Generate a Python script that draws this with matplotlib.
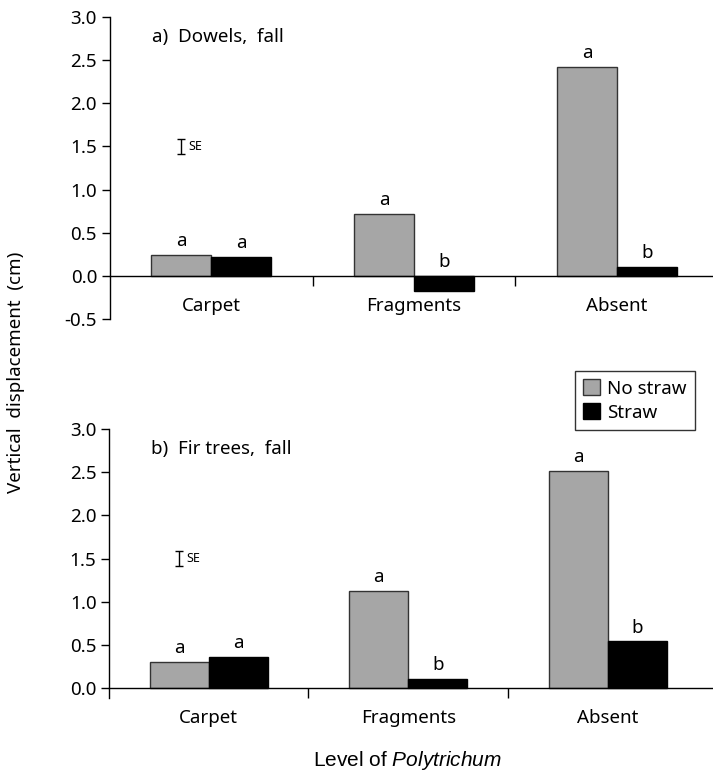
import numpy as np
import matplotlib
matplotlib.use("Agg")
import matplotlib.pyplot as plt
from matplotlib.patches import Patch

plt.rcParams['font.family'] = ['Noto Sans', 'DejaVu Sans']
plt.rcParams['mathtext.fontset'] = 'custom'
plt.rcParams['mathtext.it'] = 'Liberation Sans:italic'
plt.rcParams['mathtext.rm'] = 'Liberation Sans'

# DATA
levels = ['Carpet', 'Fragments', 'Absent']
series = ['No straw', 'Straw']
dowels_nostraw = [0.24, 0.72, 2.42]
dowels_straw = [0.22, -0.18, 0.10]
dowels_letters_nostraw = ['a', 'a', 'a']
dowels_letters_straw = ['a', 'b', 'b']
fir_nostraw = [0.30, 1.12, 2.51]
fir_straw = [0.36, 0.11, 0.54]
fir_letters_nostraw = ['a', 'a', 'a']
fir_letters_straw = ['a', 'b', 'b']
se_dowels = 0.09
se_fir = 0.09

gray = '#a6a6a6'
width = 0.295
x = np.arange(len(levels))
fs = 13.5

fig = plt.figure(figsize=(7.13, 7.72), dpi=100)
ax1 = fig.add_axes([0.1536, 0.5868, 0.8464, 0.3912])
ax2 = fig.add_axes([0.1529, 0.0965, 0.8471, 0.3478])


def panel(ax, nostraw, straw, let_ns, let_s, se, title, ylo, xhi):
    ax.bar(x - width / 2, nostraw, width, color=gray, edgecolor='#333333', linewidth=1.0, zorder=2)
    ax.bar(x + width / 2, straw, width, color='black', edgecolor='black', linewidth=1.0, zorder=2)
    for i in range(len(levels)):
        ax.annotate(let_ns[i], (x[i] - width / 2, max(nostraw[i], 0)), xytext=(0, 3.5),
                    textcoords='offset points', ha='center', va='bottom', fontsize=fs)
        ax.annotate(let_s[i], (x[i] + width / 2, max(straw[i], 0)), xytext=(0, 3.5),
                    textcoords='offset points', ha='center', va='bottom', fontsize=fs)
    # SE bar
    ax.errorbar([-0.15], [1.5], yerr=[se], fmt='none', ecolor='black', elinewidth=1.0, capsize=3, capthick=1.0)
    ax.text(-0.11, 1.5, 'SE', fontsize=9, va='center', ha='left')
    ax.text(-0.29, 2.77, title, fontsize=fs, va='center', ha='left')

    ax.set_xlim(-0.5, xhi)
    ax.set_ylim(ylo, 3.0)
    ax.set_yticks(np.arange(0 if ylo > -0.5 else -0.5, 3.01, 0.5))
    ax.yaxis.set_major_formatter(matplotlib.ticker.FormatStrFormatter('%.1f'))
    ax.spines['top'].set_visible(False)
    ax.spines['right'].set_visible(False)
    ax.spines['bottom'].set_position(('data', 0))
    ax.spines['left'].set_linewidth(1.0)
    ax.spines['bottom'].set_linewidth(1.0)
    ax.set_xticks(x)
    ax.set_xticklabels(levels)
    ax.set_xticks([0.5, 1.5], minor=True)
    ax.tick_params(axis='x', which='major', length=0, pad=15, labelsize=fs)
    ax.tick_params(axis='x', which='minor', length=7, width=1.0, direction='out')
    ax.tick_params(axis='y', length=6, width=1.0, direction='out', labelsize=fs, pad=3)


panel(ax1, dowels_nostraw, dowels_straw, dowels_letters_nostraw, dowels_letters_straw,
      se_dowels, 'a)  Dowels,  fall', -0.5, 2.473)
panel(ax2, fir_nostraw, fir_straw, fir_letters_nostraw, fir_letters_straw,
      se_fir, 'b)  Fir trees,  fall', -0.11, 2.528)

handles = [Patch(facecolor=gray, edgecolor='#333333', linewidth=1.0),
           Patch(facecolor='black', edgecolor='black')]
fig.legend(handles, series, loc='upper left', bbox_to_anchor=(0.806, 0.5194),
           frameon=True, fancybox=False, edgecolor='black', fontsize=fs,
           handlelength=0.9, handleheight=0.9, handletextpad=0.4,
           borderpad=0.45, labelspacing=0.3, borderaxespad=0)

fig.text(0.022, 0.518, 'Vertical  displacement  (cm)', rotation=90, va='center', ha='center', fontsize=fs)
fig.text(0.572, 0.0155, 'Level of $\\it{Polytrichum}$', ha='center', va='center', fontsize=15,
         family='Liberation Sans')

fig.savefig('out.png', dpi=100)
